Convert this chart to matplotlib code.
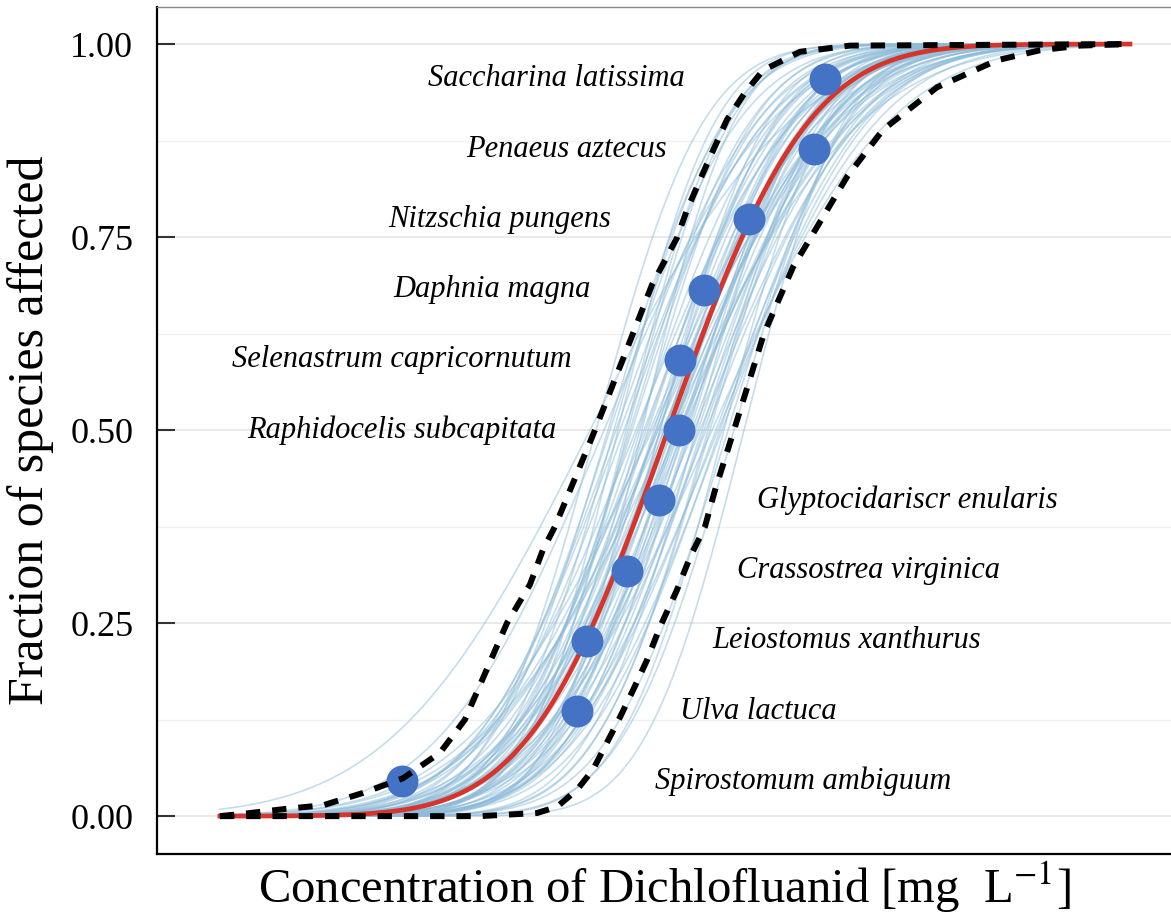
import math
import numpy as np
import matplotlib
matplotlib.use("Agg")
import matplotlib.pyplot as plt
from matplotlib.ticker import MultipleLocator

plt.rcParams["font.family"] = ["Liberation Serif", "DejaVu Serif"]
plt.rcParams["mathtext.fontset"] = "stix"

# species, log10 of the toxicity value, plotted fraction
species = ["Spirostomum ambiguum", "Ulva lactuca", "Leiostomus xanthurus",
           "Crassostrea virginica", "Glyptocidariscr enularis",
           "Raphidocelis subcapitata", "Selenastrum capricornutum",
           "Daphnia magna", "Nitzschia pungens", "Penaeus aztecus",
           "Saccharina latissima"]
log_conc = [-1.39, -0.515, -0.465, -0.265, -0.105, -0.005, 0.0, 0.12, 0.345, 0.67, 0.725]
frac = [0.045, 0.136, 0.227, 0.318, 0.409, 0.5, 0.591, 0.682, 0.773, 0.864, 0.955]

# fitted log-normal SSD (mean and sd of log10 concentration)
fit_mu = -0.06
fit_sd = 0.55

# bootstrap fits
boot_mu = [-0.42, -0.35, -0.31, -0.28, -0.25, -0.22, -0.20, -0.18, -0.16, -0.15,
           -0.13, -0.12, -0.11, -0.10, -0.09, -0.08, -0.07, -0.06, -0.05, -0.04,
           -0.03, -0.02, -0.01, 0.00, 0.01, 0.02, 0.04, 0.06, 0.08, 0.10,
           0.12, 0.15, 0.18, 0.22, 0.27, -0.38, -0.26, -0.14, 0.05, 0.20,
           -0.30, -0.19, -0.05, 0.03, 0.13, -0.24, -0.10, 0.00, 0.09, 0.32,
           -0.45, -0.17, -0.02, 0.07, 0.24, -0.33, -0.08, 0.11, 0.16, -0.12,
           -0.36, -0.21, -0.04, 0.14, 0.21, -0.27, -0.11, 0.02, 0.19, -0.32]
boot_sd = [0.42, 0.50, 0.38, 0.55, 0.47, 0.62, 0.44, 0.58, 0.51, 0.66,
           0.48, 0.56, 0.60, 0.45, 0.70, 0.53, 0.49, 0.57, 0.64, 0.52,
           0.46, 0.59, 0.68, 0.54, 0.50, 0.61, 0.47, 0.56, 0.43, 0.63,
           0.52, 0.45, 0.58, 0.41, 0.44, 0.65, 0.40, 0.72, 0.48, 0.53,
           0.57, 0.36, 0.75, 0.55, 0.60, 0.49, 0.42, 0.66, 0.51, 0.39,
           0.78, 0.54, 0.46, 0.62, 0.47, 0.43, 0.58, 0.50, 0.69, 0.52,
           0.46, 0.53, 0.61, 0.44, 0.57, 0.39, 0.67, 0.48, 0.62, 0.55]

# 95% bounds
upper_x = [-2.30, -2.15, -1.95, -1.785, -1.585, -1.385, -1.20, -1.075, -0.865, -0.75,
           -0.685, -0.625, -0.425, -0.235, -0.14, -0.015, 0.035, 0.10, 0.16, 0.235,
           0.325, 0.415, 0.60, 0.85, 2.25]
upper_y = [0.0, 0.004, 0.010, 0.014, 0.030, 0.049, 0.082, 0.125, 0.25, 0.30,
           0.345, 0.375, 0.5, 0.625, 0.688, 0.749, 0.785, 0.824, 0.859, 0.902,
           0.937, 0.966, 0.99, 0.998, 1.0]
lower_x = [-2.30, -1.00, -0.715, -0.615, -0.515, -0.435, -0.30, -0.235, -0.165, -0.10,
           -0.015, 0.05, 0.125, 0.175, 0.27, 0.42, 0.565, 0.685, 0.835, 1.015,
           1.285, 1.585, 1.80, 2.00, 2.25]
lower_y = [0.0, 0.0, 0.004, 0.012, 0.034, 0.06, 0.128, 0.163, 0.202, 0.245,
           0.293, 0.335, 0.375, 0.422, 0.5, 0.625, 0.711, 0.763, 0.828, 0.889,
           0.944, 0.979, 0.992, 0.998, 1.0]

# label anchors (x) and alignment
label_x = [-0.125, 0.0, 0.16, 0.285, 0.385, -0.62, -0.54, -0.445, -0.345, -0.065, 0.025]
label_ha = ["left"] * 5 + ["right"] * 6

erf = np.vectorize(math.erf)


def norm_cdf(x, mu, sd):
    return 0.5 * (1 + erf((x - mu) / (sd * math.sqrt(2))))


xs = np.linspace(-2.30, 2.25, 400)

fig = plt.figure(figsize=(11.71, 9.22), dpi=100)
ax = fig.add_axes([0.134, 0.0738, 0.866, 0.9186])

for m, s in zip(boot_mu, boot_sd):
    ax.plot(xs, norm_cdf(xs, m, s), color="#8dbbd8", lw=1.2, alpha=0.5, zorder=2)

ax.plot(xs, norm_cdf(xs, fit_mu, fit_sd), color="#d7352b", lw=3.4, zorder=3)
ax.plot(log_conc, frac, "o", color="#4472c4", ms=23, mec="none", zorder=4)
ax.plot(upper_x, upper_y, color="black", lw=4.3, dashes=(2.4, 2.0), zorder=5)
ax.plot(lower_x, lower_y, color="black", lw=4.3, dashes=(2.4, 2.0), zorder=5)

for name, lx, ly, ha in zip(species, label_x, frac, label_ha):
    ax.text(lx, ly, name, ha=ha, va="center", style="italic", fontsize=22, zorder=6)

ax.set_xlim(-2.615, 2.455)
ax.set_ylim(-0.049, 1.048)
ax.set_xticks([])
ax.yaxis.set_minor_locator(MultipleLocator(0.125))
ax.set_yticks([0, 0.25, 0.5, 0.75, 1.0])
ax.set_yticklabels(["0.00", "0.25", "0.50", "0.75", "1.00"])
ax.tick_params(axis="y", which="major", direction="in", length=13, width=1.5,
               color="#333333", labelsize=26, pad=17)
ax.tick_params(axis="y", which="minor", length=0)
ax.grid(axis="y", which="major", color="#e6e6e6", lw=1.2, zorder=0)
ax.grid(axis="y", which="minor", color="#f0f0f0", lw=1.0, zorder=0)
ax.set_axisbelow(True)

ax.spines["right"].set_visible(False)
ax.spines["top"].set_color("#888888")
ax.spines["top"].set_linewidth(1.0)
ax.spines["left"].set_linewidth(1.6)
ax.spines["bottom"].set_linewidth(1.6)

ax.set_xlabel("Concentration of Dichlofluanid [mg  L$^{-1}$]", fontsize=35, labelpad=4)
ax.set_ylabel("Fraction of species affected", fontsize=36, labelpad=12)

fig.savefig("out.png", dpi=100)
